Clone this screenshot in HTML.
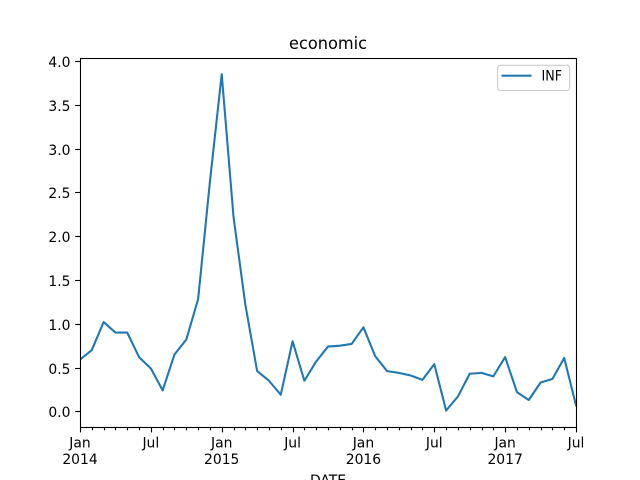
<!DOCTYPE html>
<html>
<head>
<meta charset="utf-8">
<style>
html,body{margin:0;padding:0;background:#fff;}
svg{display:block;font-family:"DejaVu Sans","Liberation Sans",sans-serif;}
</style>
</head>
<body>
<svg id="chart" width="640" height="480" viewBox="0 0 640 480" xmlns="http://www.w3.org/2000/svg">
<rect x="0" y="0" width="640" height="480" fill="#ffffff"/>
<defs><clipPath id="plot-clip"><rect x="80" y="57.6" width="496" height="369.6"/></clipPath></defs>
<g id="grid-ticks"></g>
<path id="series" fill="none" stroke="#1f77b4" stroke-width="2.08" stroke-linejoin="round" stroke-linecap="square" clip-path="url(#plot-clip)"></path>
<rect x="80.5" y="58.5" width="496" height="369" fill="none" stroke="#000" stroke-width="1.11"/>
<text x="328" y="49" font-size="16.67" text-anchor="middle" textLength="78" lengthAdjust="spacingAndGlyphs" fill="#000">economic</text>
<text x="328" y="485" font-size="13.89" text-anchor="middle" fill="#000">DATE</text>
<g>
<rect x="497.6" y="65.3" width="72" height="25.2" rx="2.8" ry="2.8" fill="#fff" fill-opacity="0.8" stroke="#cccccc" stroke-width="1.11"/>
<line x1="501.5" y1="75.7" x2="531.5" y2="75.7" stroke="#1f77b4" stroke-width="2.08"/>
<text x="541.5" y="80.6" font-size="13.89" textLength="20.5" lengthAdjust="spacingAndGlyphs" fill="#000">INF</text>
</g>
</svg>
<script>
const months = ["2014-01","2014-02","2014-03","2014-04","2014-05","2014-06","2014-07","2014-08","2014-09","2014-10","2014-11","2014-12","2015-01","2015-02","2015-03","2015-04","2015-05","2015-06","2015-07","2015-08","2015-09","2015-10","2015-11","2015-12","2016-01","2016-02","2016-03","2016-04","2016-05","2016-06","2016-07","2016-08","2016-09","2016-10","2016-11","2016-12","2017-01","2017-02","2017-03","2017-04","2017-05","2017-06","2017-07"];
const infValues = [0.59,0.70,1.02,0.90,0.90,0.62,0.49,0.24,0.65,0.82,1.28,2.62,3.85,2.22,1.22,0.46,0.35,0.19,0.80,0.35,0.57,0.74,0.75,0.77,0.96,0.63,0.46,0.44,0.41,0.36,0.54,0.01,0.17,0.43,0.44,0.40,0.62,0.22,0.13,0.33,0.37,0.61,0.07];
const yTickLabels = ["0.0","0.5","1.0","1.5","2.0","2.5","3.0","3.5","4.0"];
const monthNames = {"01":"Jan","07":"Jul"};

const svgNS = "http://www.w3.org/2000/svg";
const plotLeft = 80, plotRight = 576, plotBottom = 427.5;
function xScale(i){ return plotLeft + i * (plotRight - plotLeft) / (months.length - 1); }
function yScale(v){ return 411.4 - v * 87.6; }

const layer = document.getElementById("grid-ticks");
function addLine(x1, y1, x2, y2, name){
  const l = document.createElementNS(svgNS, "line");
  l.setAttribute("x1", x1);
  l.setAttribute("y1", y1);
  l.setAttribute("x2", x2);
  l.setAttribute("y2", y2);
  l.setAttribute("stroke", "#000");
  l.setAttribute("stroke-width", "1.11");
  
  
  layer.appendChild(l);
}
function addText(x, y, str, anchor, name){
  const t = document.createElementNS(svgNS, "text");
  t.setAttribute("x", x);
  t.setAttribute("y", y);
  t.setAttribute("font-size", "13.89");
  t.setAttribute("text-anchor", anchor);
  t.setAttribute("fill", "#000");
  t.textContent = str;
  
  
  layer.appendChild(t);
}

yTickLabels.forEach(function(lbl){
  const y = Math.round(yScale(parseFloat(lbl))) + 0.5;
  addLine(75.1, y, plotLeft, y, "y-tick");
  addText(70.5, y + 5.5, lbl, "end", "y-tick-label");
});

months.forEach(function(m, i){
  const parts = m.split("-");
  const x = Math.round(xScale(i)) + 0.5;
  const major = monthNames[parts[1]];
  addLine(x, plotBottom, x, plotBottom + (major ? 4.86 : 2.78), major ? "x-major-tick" : "x-minor-tick");
  if (major) {
    addText(xScale(i), 447.5, major, "middle", "x-tick-label");
    if (parts[1] === "01") addText(xScale(i), 464, parts[0], "middle", "x-year-label");
  }
});

document.getElementById("series").setAttribute("d", infValues.map(function(v, i){
  return (i ? "L" : "M") + xScale(i).toFixed(2) + " " + yScale(v).toFixed(2);
}).join(" "));
</script>
</body>
</html>
